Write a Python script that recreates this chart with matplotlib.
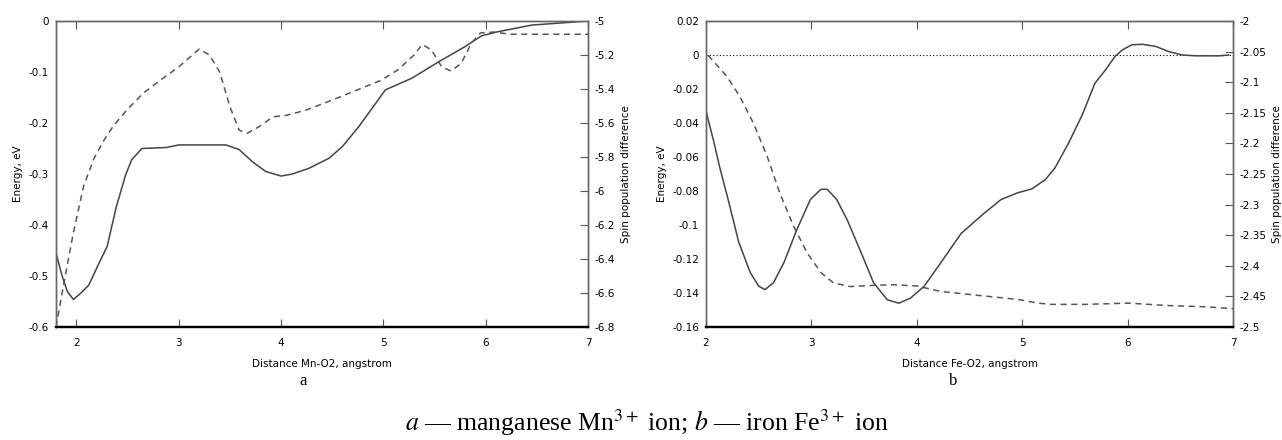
import numpy as np
import matplotlib.pyplot as plt

plt.rcParams['font.family'] = 'DejaVu Sans'
plt.rcParams['mathtext.fontset'] = 'stix'

# panel a: Mn-O2
mn_x_energy = [1.8, 1.86, 1.91, 1.97, 2.04, 2.12, 2.22, 2.3, 2.39, 2.48, 2.54, 2.64, 2.88, 3.0, 3.46,
               3.59, 3.72, 3.85, 4.0, 4.11, 4.27, 4.47, 4.6, 4.76, 5.02, 5.28, 5.54, 5.8, 5.96, 6.12,
               6.45, 7.0]
mn_energy = [-0.455, -0.5, -0.53, -0.546, -0.534, -0.518, -0.475, -0.442, -0.364, -0.302, -0.272,
             -0.25, -0.248, -0.243, -0.243, -0.252, -0.276, -0.295, -0.304, -0.3, -0.289, -0.269,
             -0.246, -0.207, -0.135, -0.112, -0.08, -0.05, -0.029, -0.021, -0.008, 0.0]
mn_x_spin = [1.8, 1.89, 1.97, 2.07, 2.17, 2.27, 2.36, 2.49, 2.65, 2.82, 3.0, 3.2, 3.3, 3.4, 3.5, 3.59,
             3.67, 3.79, 3.92, 4.05, 4.24, 4.5, 4.82, 4.98, 5.14, 5.3, 5.38, 5.47, 5.57, 5.66, 5.76,
             5.86, 5.95, 6.08, 6.24, 7.0]
mn_spin = [-6.80, -6.50, -6.245, -5.972, -5.81, -5.70, -5.618, -5.525, -5.426, -5.348, -5.27, -5.165,
           -5.2, -5.30, -5.504, -5.642, -5.66, -5.62, -5.564, -5.555, -5.525, -5.465, -5.387, -5.348,
           -5.288, -5.20, -5.138, -5.17, -5.27, -5.294, -5.25, -5.13, -5.07, -5.065, -5.078, -5.078]

# panel b: Fe-O2
fe_x_energy = [2.0, 2.07, 2.13, 2.21, 2.31, 2.42, 2.5, 2.56, 2.64, 2.74, 2.86, 2.99, 3.09, 3.15, 3.24,
               3.34, 3.47, 3.59, 3.72, 3.83, 3.94, 4.07, 4.23, 4.42, 4.64, 4.8, 4.96, 5.09, 5.22, 5.31,
               5.44, 5.57, 5.69, 5.79, 5.88, 5.95, 6.04, 6.14, 6.27, 6.39, 6.52, 6.65, 6.87, 6.96]
fe_energy = [-0.033, -0.05, -0.066, -0.085, -0.11, -0.128, -0.136, -0.138, -0.134, -0.122, -0.103,
             -0.085, -0.079, -0.079, -0.085, -0.097, -0.116, -0.134, -0.144, -0.146, -0.143, -0.136,
             -0.122, -0.105, -0.093, -0.085, -0.081, -0.0788, -0.0733, -0.0665, -0.0518, -0.0352,
             -0.0166, -0.0088, -0.0009, 0.003, 0.006, 0.0063, 0.005, 0.002, 0.0, -0.0005, -0.0005, 0.0]
fe_x_spin = [2.02, 2.2, 2.32, 2.45, 2.58, 2.7, 2.83, 2.96, 3.09, 3.21, 3.37, 3.59, 3.78, 4.0, 4.23,
             4.51, 4.96, 5.15, 5.28, 5.6, 6.01, 6.39, 6.74, 7.0]
fe_spin = [-2.056, -2.091, -2.123, -2.167, -2.221, -2.281, -2.335, -2.379, -2.411, -2.428, -2.434,
           -2.432, -2.431, -2.433, -2.442, -2.447, -2.455, -2.461, -2.463, -2.463, -2.461, -2.465,
           -2.467, -2.470]

fig = plt.figure(figsize=(12.82, 4.40), dpi=100)
W, H = 1282, 440


def panel(left, right, xlim, ylim, y2lim, yticks, y2ticks, xticks, yfmt, y2fmt):
    ax = fig.add_axes([left / W, (H - 327) / H, (right - left) / W, 306 / H])
    ax2 = ax.twinx()
    ax.set_xlim(*xlim)
    ax.set_ylim(*ylim)
    ax2.set_ylim(*y2lim)
    ax.set_xticks(xticks)
    ax.set_xticklabels([str(t) for t in xticks])
    ax.set_yticks(yticks)
    ax.set_yticklabels([yfmt(t) for t in yticks])
    ax2.set_yticks(y2ticks)
    ax2.set_yticklabels([y2fmt(t) for t in y2ticks])
    ax.tick_params(axis='x', direction='in', length=6, top=True, labelsize=7.5, pad=8, color='#555')
    ax.tick_params(axis='y', length=0, labelsize=7.5, pad=5)
    ax2.tick_params(axis='y', direction='in', length=6, labelsize=7.5, pad=5, color='#555')
    for a in (ax, ax2):
        for s in ('left', 'right', 'top'):
            a.spines[s].set_color('#666')
            a.spines[s].set_linewidth(1.0)
        a.spines['bottom'].set_color('black')
        a.spines['bottom'].set_linewidth(1.6)
    ax.set_ylabel('Energy, eV', fontsize=7.5, labelpad=4)
    ax2.set_ylabel('Spin population difference', fontsize=7.5, labelpad=4)
    return ax, ax2


def fmt(t):
    s = ('%.2f' % t).rstrip('0').rstrip('.')
    return '0' if s in ('-0', '0') else s


ax, ax2 = panel(56, 588, (1.8, 7), (-0.6, 0), (-6.8, -5),
                np.round(np.arange(-0.6, 0.01, 0.1), 2), np.round(np.arange(-6.8, -4.99, 0.2), 2),
                [2, 3, 4, 5, 6, 7], fmt, fmt)
ax.plot(mn_x_energy, mn_energy, color='#444', lw=1.1)
ax2.plot(mn_x_spin, mn_spin, color='#555', lw=1.1, ls=(0, (4, 3)))
ax.set_xlabel('Distance Mn-O2, angstrom', fontsize=7.5, labelpad=8)

bx, bx2 = panel(706, 1233, (2, 7), (-0.16, 0.02), (-2.5, -2),
                np.round(np.arange(-0.16, 0.021, 0.02), 2), np.round(np.arange(-2.5, -1.99, 0.05), 2),
                [2, 3, 4, 5, 6, 7], fmt, fmt)
bx.axhline(0, color='black', lw=0.8, ls=(0, (1, 2)))
bx.plot(fe_x_energy, fe_energy, color='#444', lw=1.1)
bx2.plot(fe_x_spin, fe_spin, color='#555', lw=1.1, ls=(0, (4, 3)))
bx.set_xlabel('Distance Fe-O2, angstrom', fontsize=7.5, labelpad=8)

fig.text(303 / W, 1 - 381 / H, 'a', family='Liberation Serif', fontsize=12, ha='center', va='center')
fig.text(953 / W, 1 - 381 / H, 'b', family='Liberation Serif', fontsize=12, ha='center', va='center')
fig.text(647 / W, 1 - 423 / H, r'$a$ — manganese Mn$^{3+}$ ion; $b$ — iron Fe$^{3+}$ ion',
         family='Liberation Serif', fontsize=18.5, ha='center', va='center')

fig.savefig('out.png', dpi=100)
